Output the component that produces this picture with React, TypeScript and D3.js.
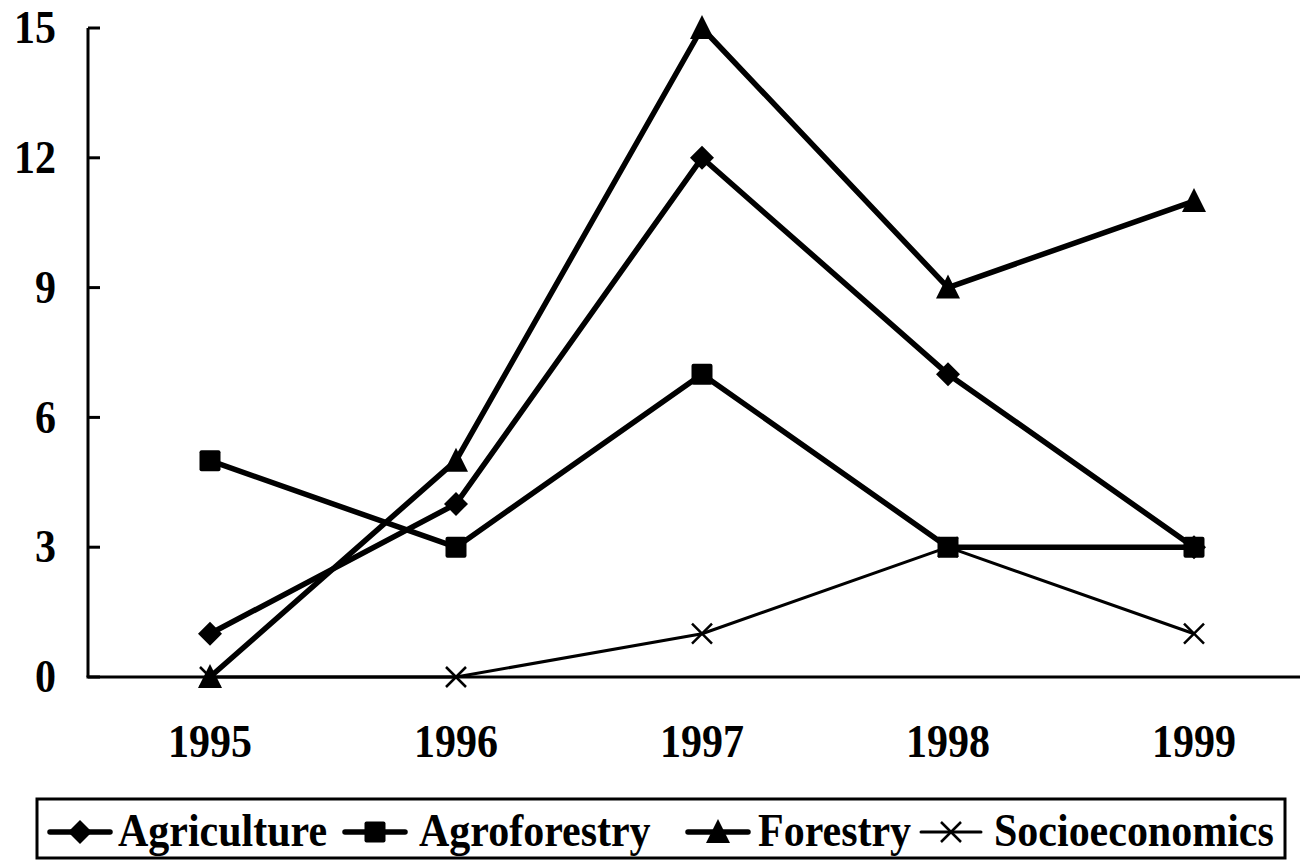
import React from 'react';
import * as d3 from 'd3';

const years = ['1995', '1996', '1997', '1998', '1999'];
const agriculture = [1, 4, 12, 7, 3];
const agroforestry = [5, 3, 7, 3, 3];
const forestry = [0, 5, 15, 9, 11];
const socioeconomics = [0, 0, 1, 3, 1];
const yTicks = [0, 3, 6, 9, 12, 15];
const seriesNames = ['Agriculture', 'Agroforestry', 'Forestry', 'Socioeconomics'];
const seriesMarkers = ['diamond', 'square', 'triangle', 'cross'];

const W = 1300;
const H = 861;
const FONT = '"Liberation Serif", "Times New Roman", serif';

function Marker({ type, cx, cy }: { type: string; cx: number; cy: number }) {
  if (type === 'diamond') {
    const r = 12;
    return <path d={`M${cx},${cy - r}L${cx + r},${cy}L${cx},${cy + r}L${cx - r},${cy}Z`} fill="#000" />;
  }
  if (type === 'square') {
    const r = 10.5;
    return <rect x={cx - r} y={cy - r} width={2 * r} height={2 * r} rx={2} fill="#000" />;
  }
  if (type === 'triangle') {
    const r = 12;
    return <path d={`M${cx},${cy - r - 1}L${cx + r},${cy + r - 1}L${cx - r},${cy + r - 1}Z`} fill="#000" />;
  }
  const r = 10;
  return (
    <path
      d={`M${cx - r},${cy - r}L${cx + r},${cy + r}M${cx - r},${cy + r}L${cx + r},${cy - r}`}
      stroke="#000"
      strokeWidth={2.5}
      fill="none"
    />
  );
}

function TallText(props: { x: number; y: number; anchor?: string; size: number; children: React.ReactNode; baseline?: string }) {
  const sy = 1.1;
  return (
    <text
      transform={`translate(${props.x},${props.y}) scale(1,${sy})`}
      textAnchor={props.anchor || 'start'}
      dominantBaseline={props.baseline || 'alphabetic'}
      fontFamily={FONT}
      fontWeight="bold"
      fontSize={props.size}
    >
      {props.children}
    </text>
  );
}

export default function App() {
  const x = d3.scaleBand<string>().domain(years).range([87, 87 + 5 * 246]);
  const cx = (yr: string) => (x(yr) as number) + x.bandwidth() / 2;
  const y = d3.scaleLinear().domain([0, 15]).range([677, 28]);

  const series = [agriculture, agroforestry, forestry, socioeconomics];
  const widths = [5.5, 5.5, 5.5, 3];

  const line = d3
    .line<number>()
    .x((_, i) => cx(years[i]))
    .y((d) => y(d));

  const legendMarkerX = [80, 375, 718, 951];
  const legendTextX = [118, 419, 758, 994];
  const legendY = 832;

  return (
    <div style={{ position: 'absolute', left: 0, top: 0, width: W, height: H, background: '#fff' }}>
      <svg width={W} height={H} style={{ display: 'block' }}>
        <rect x={0} y={0} width={W} height={H} fill="#fff" />
        {/* Y axis */}
        <line x1={88} y1={y(15)} x2={88} y2={y(0)} stroke="#000" strokeWidth={3} />
        {yTicks.map((t) => (
          <g key={t}>
            <line x1={88} x2={100} y1={y(t)} y2={y(t)} stroke="#000" strokeWidth={3} />
            <TallText x={56} y={y(t)} anchor="end" size={42} baseline="central">
              {t}
            </TallText>
          </g>
        ))}
        {/* X axis */}
        <line x1={86.5} y1={y(0)} x2={W} y2={y(0)} stroke="#000" strokeWidth={3} />
        {years.map((yr) => (
          <TallText key={yr} x={cx(yr)} y={757} anchor="middle" size={42}>
            {yr}
          </TallText>
        ))}
        {/* Series */}
        {series.map((s, si) => (
          <g key={seriesNames[si]}>
            <path d={line(s) as string} fill="none" stroke="#000" strokeWidth={widths[si]} strokeLinejoin="round" />
            {s.map((v, i) => (
              <Marker key={i} type={seriesMarkers[si]} cx={cx(years[i])} cy={y(v)} />
            ))}
          </g>
        ))}
        {/* Legend */}
        <rect x={37} y={799} width={1248} height={59} fill="#fff" stroke="#000" strokeWidth={3} />
        {seriesNames.map((n, i) => (
          <g key={n}>
            <line
              x1={legendMarkerX[i] - 30}
              x2={legendMarkerX[i] + 30}
              y1={legendY}
              y2={legendY}
              stroke="#000"
              strokeWidth={i === 3 ? 3 : 5.5}
              strokeLinecap="round"
            />
            <Marker type={seriesMarkers[i]} cx={legendMarkerX[i]} cy={legendY} />
            <TallText x={legendTextX[i]} y={846} size={42}>
              {n}
            </TallText>
          </g>
        ))}
      </svg>
    </div>
  );
}
